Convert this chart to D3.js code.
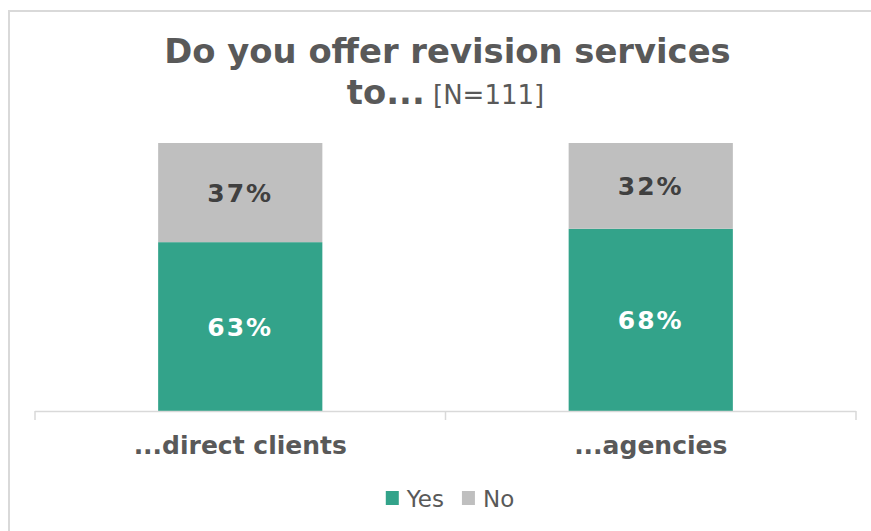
<!DOCTYPE html>
<html>
<head>
<meta charset="utf-8">
<script src="https://cdn.jsdelivr.net/npm/d3@7"></script>
<style>
  html, body { margin: 0; padding: 0; background: #fff; }
  svg { display: block; }
</style>
</head>
<body>
<svg id="chart" width="871" height="531"></svg>
<script>
// Survey answers, percent of respondents
const categories = ["...direct clients", "...agencies"];
const yesValues = [63, 68];
const noValues = [37, 32];
const seriesNames = ["Yes", "No"];
const titleLine1 = "Do you offer revision services";
const titleLine2Bold = "to...";
const titleLine2Note = "[N=111]";

const colors = { Yes: "#33a38a", No: "#bfbfbf" };
const labelColors = { Yes: "#ffffff", No: "#404040" };
const textGray = "#595959";
const lineGray = "#d9d9d9";

const svg = d3.select("#chart");

// frame lines along the top and left edge
svg.append("line").attr("x1", 9).attr("x2", 871).attr("y1", 11).attr("y2", 11)
  .attr("stroke", lineGray).attr("stroke-width", 2);
svg.append("line").attr("x1", 9).attr("x2", 9).attr("y1", 10).attr("y2", 531)
  .attr("stroke", lineGray).attr("stroke-width", 2);

const x = d3.scaleBand().domain(categories).range([35, 856]).paddingInner(0).paddingOuter(0);
const y = d3.scaleLinear().domain([0, 100]).range([411, 143]);
const barW = x.bandwidth() * 0.4;

const rows = categories.map((c, i) => ({ cat: c, Yes: yesValues[i], No: noValues[i] }));
const stacked = d3.stack().keys(seriesNames)(rows);

// stacked bars
const layers = svg.append("g").selectAll("g").data(stacked).join("g")
  .attr("fill", d => colors[d.key]);
layers.selectAll("rect").data(d => d.map(p => ({ p, key: d.key }))).join("rect")
  .attr("x", d => x(d.p.data.cat) + (x.bandwidth() - barW) / 2)
  .attr("width", barW)
  .attr("y", d => y(d.p[1]))
  .attr("height", d => y(d.p[0]) - y(d.p[1]));

// value labels inside each segment
layers.selectAll("text").data(d => d.map(p => ({ p, key: d.key }))).join("text")
  .attr("x", d => x(d.p.data.cat) + x.bandwidth() / 2)
  .attr("y", d => (y(d.p[0]) + y(d.p[1])) / 2 + 1)
  .attr("text-anchor", "middle")
  .attr("dominant-baseline", "central")
  .attr("fill", d => labelColors[d.key])
  .attr("font-family", "DejaVu Sans, Verdana, sans-serif")
  .attr("font-weight", "bold")
  .attr("font-size", 25)
  .attr("letter-spacing", 2)
  .text(d => (d.p[1] - d.p[0]) + "%");

// category axis: baseline plus ticks on band boundaries
const axisG = svg.append("g").attr("transform", `translate(0,${y(0)})`);
axisG.append("line")
  .attr("x1", x.range()[0]).attr("x2", x.range()[1])
  .attr("y1", 0.5).attr("y2", 0.5)
  .attr("stroke", lineGray).attr("stroke-width", 1.5);
const bounds = categories.map(c => x(c)).concat([x.range()[1]]);
axisG.selectAll("line.tick").data(bounds).join("line").attr("class", "tick")
  .attr("x1", d => d).attr("x2", d => d)
  .attr("y1", 0).attr("y2", 9)
  .attr("stroke", lineGray).attr("stroke-width", 1.5);

const labelAxis = d3.axisBottom(x).tickSize(0).tickPadding(0);
const lab = svg.append("g").attr("transform", `translate(0,${y(0) + 43})`).call(labelAxis);
lab.select(".domain").remove();
lab.selectAll("text")
  .attr("dy", 0)
  .attr("fill", textGray)
  .attr("font-family", "DejaVu Sans, Verdana, sans-serif")
  .attr("font-weight", "bold")
  .attr("font-size", 25);

// title
const cx = (x.range()[0] + x.range()[1]) / 2;
svg.append("text")
  .attr("x", cx + 2).attr("y", 63)
  .attr("text-anchor", "middle")
  .attr("fill", textGray)
  .attr("font-family", "DejaVu Sans, Verdana, sans-serif")
  .attr("font-weight", "bold")
  .attr("font-size", 33.8)
  .text(titleLine1);
const t2 = svg.append("text")
  .attr("x", cx).attr("y", 104)
  .attr("text-anchor", "middle")
  .attr("fill", textGray)
  .attr("font-family", "DejaVu Sans, Verdana, sans-serif");
t2.append("tspan").attr("font-weight", "bold").attr("font-size", 33.8).text(titleLine2Bold);
t2.append("tspan").attr("font-size", 26).text(" " + titleLine2Note);

// legend
const legend = svg.append("g");
let lx = 0;
seriesNames.forEach((name, i) => {
  const g = legend.append("g").attr("transform", `translate(${lx},0)`);
  g.append("rect").attr("x", 0).attr("y", -7).attr("width", 13).attr("height", 14)
    .attr("fill", colors[name]);
  const t = g.append("text").attr("x", 21).attr("y", 9)
    .attr("fill", textGray)
    .attr("font-family", "DejaVu Sans, Verdana, sans-serif")
    .attr("font-size", 23)
    .text(name);
  lx += 21 + t.node().getComputedTextLength() + 18;
});
const legW = lx - 18;
legend.attr("transform", `translate(${450 - legW / 2},498)`);
</script>
</body>
</html>
